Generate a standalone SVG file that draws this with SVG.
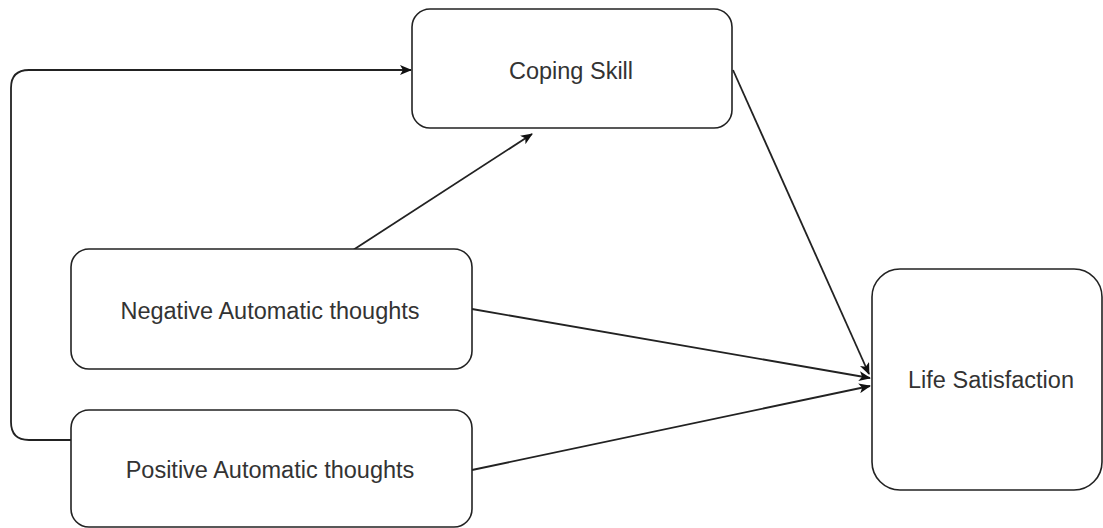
<svg xmlns="http://www.w3.org/2000/svg" width="1103" height="528" viewBox="0 0 1103 528">
<style>
.box{fill:#fff;stroke:#222;stroke-width:1.6}
.lbl{font-family:"Liberation Sans",Arial,sans-serif;font-size:23.5px;fill:#333;text-anchor:middle}
.edge{fill:none;stroke:#222;stroke-width:1.8}
</style>
<defs>
<marker id="arr" viewBox="0 0 12 10" refX="11" refY="5" markerWidth="12" markerHeight="10" markerUnits="userSpaceOnUse" orient="auto">
<path d="M0,0 L12,5 L0,10 L3,5 Z" fill="#111"/>
</marker>
</defs>
<rect width="1103" height="528" fill="#fff"/>
<g id="connectors">
<path class="edge" d="M71,440 H29 Q11,440 11,422 V88 Q11,70 29,70 H411" marker-end="url(#arr)"/>
<path class="edge" d="M350,252 L532,134" marker-end="url(#arr)"/>
<path class="edge" d="M733,70 L869,374" marker-end="url(#arr)"/>
<path class="edge" d="M472,309 L870,378" marker-end="url(#arr)"/>
<path class="edge" d="M472,470 L870,386" marker-end="url(#arr)"/>
</g>
<g id="coping">
<rect class="box" x="412" y="9" width="320" height="119" rx="18"/>
<text class="lbl" x="571" y="79">Coping Skill</text>
</g>
<g id="negative">
<rect class="box" x="71" y="249" width="401" height="120" rx="18"/>
<text class="lbl" x="270" y="319">Negative Automatic thoughts</text>
</g>
<g id="positive">
<rect class="box" x="71" y="410" width="401" height="117" rx="18"/>
<text class="lbl" x="270" y="478">Positive Automatic thoughts</text>
</g>
<g id="life">
<rect class="box" x="872" y="269" width="230" height="221" rx="28"/>
<text class="lbl" x="991" y="388">Life Satisfaction</text>
</g>
</svg>
